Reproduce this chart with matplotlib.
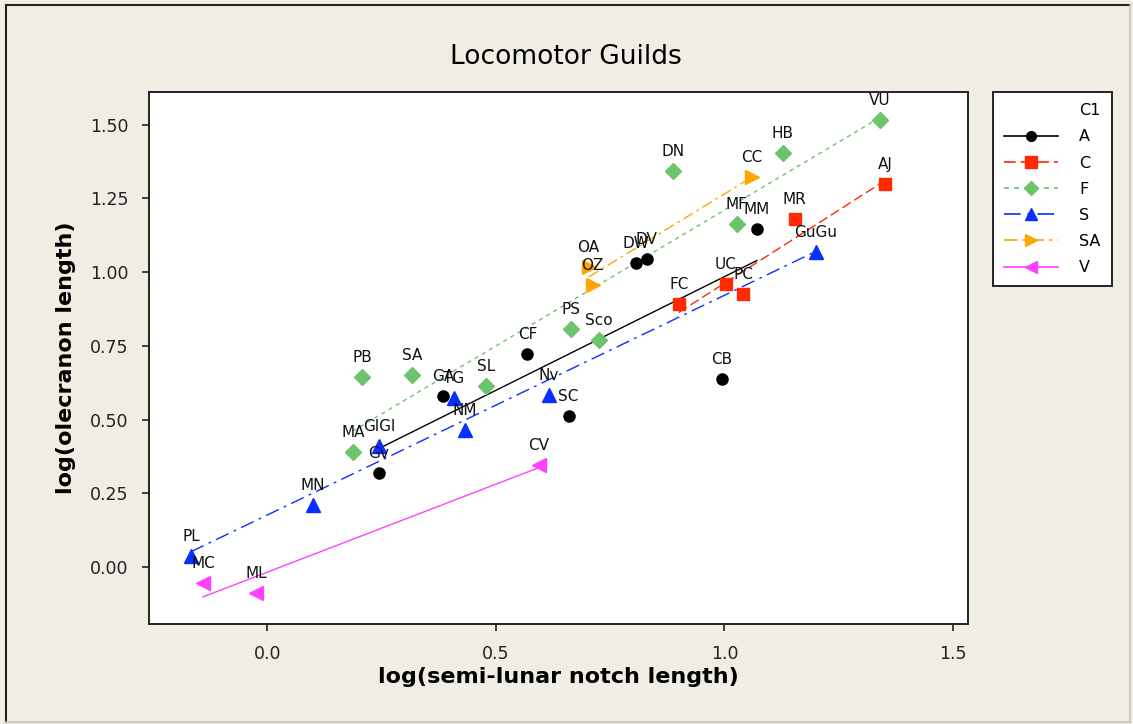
import matplotlib
matplotlib.use("Agg")
import matplotlib.pyplot as plt
from matplotlib.lines import Line2D
import numpy as np

# guild A
a_names = ["Gv", "GA", "CF", "SC", "DW", "DV", "CB", "MM"]
a_x = [0.244, 0.384, 0.569, 0.659, 0.806, 0.830, 0.994, 1.071]
a_y = [0.319, 0.580, 0.723, 0.512, 1.031, 1.045, 0.638, 1.147]

# guild C
c_names = ["FC", "UC", "PC", "MR", "AJ"]
c_x = [0.900, 1.003, 1.041, 1.154, 1.351]
c_y = [0.892, 0.960, 0.926, 1.180, 1.299]

# guild F
f_names = ["MA", "PB", "SA", "SL", "PS", "Sco", "DN", "MF", "HB", "VU"]
f_x = [0.187, 0.207, 0.316, 0.478, 0.664, 0.725, 0.887, 1.027, 1.128, 1.340]
f_y = [0.390, 0.645, 0.651, 0.614, 0.807, 0.770, 1.343, 1.164, 1.404, 1.516]

# guild S
s_names = ["PL", "MN", "GlGl", "TG", "NM", "Nv", "GuGu"]
s_x = [-0.167, 0.100, 0.244, 0.408, 0.432, 0.616, 1.200]
s_y = [0.037, 0.210, 0.410, 0.573, 0.465, 0.583, 1.069]

# guild SA
sa_names = ["OA", "OZ", "CC"]
sa_x = [0.703, 0.712, 1.060]
sa_y = [1.018, 0.957, 1.323]

# guild V
v_names = ["MC", "ML", "CV"]
v_x = [-0.141, -0.025, 0.594]
v_y = [-0.054, -0.088, 0.346]

guilds = ["A", "C", "F", "S", "SA", "V"]
bg = "#f0ede5"

styles = {
  "A":  dict(color="black",   marker="o", ms=8,   ls="-"),
  "C":  dict(color="#ff2a00", marker="s", ms=9,   ls=(0, (7, 3))),
  "F":  dict(color="#6cc46c", marker="D", ms=8,   ls=(0, (3, 3))),
  "S":  dict(color="#0a2eff", marker="^", ms=10,  ls=(0, (10, 4, 2, 4))),
  "SA": dict(color="#ffa500", marker=">", ms=10,  ls=(0, (8, 3, 2, 3))),
  "V":  dict(color="#ff40ff", marker="<", ms=10,  ls="-"),
}

data = {
  "A": (a_names, a_x, a_y),
  "C": (c_names, c_x, c_y),
  "F": (f_names, f_x, f_y),
  "S": (s_names, s_x, s_y),
  "SA": (sa_names, sa_x, sa_y),
  "V": (v_names, v_x, v_y),
}

fig = plt.figure(figsize=(11.33, 7.24), dpi=100, facecolor=bg)
ax = fig.add_axes([149/1133, 1 - 624/724, 819/1133, 532/724])
ax.set_facecolor("white")

for g in guilds:
  names, xs, ys = data[g]
  st = styles[g]
  xs = np.array(xs)
  ys = np.array(ys)
  # least squares fit line over the guild's x range
  k, b = np.polyfit(xs, ys, 1)
  lx = np.array([xs.min(), xs.max()])
  ax.plot(lx, k * lx + b, color=st["color"], ls=st["ls"], lw=1.0, zorder=2)
  ax.plot(xs, ys, ls="none", marker=st["marker"], ms=st["ms"],
          color=st["color"], mec=st["color"], zorder=3)
  for n, x, y in zip(names, xs, ys):
    ax.annotate(n, (x, y), xytext=(0, 14), textcoords="offset points",
                ha="center", va="center", fontsize=11, color="#111111", zorder=4)

ax.set_xlim(-0.259, 1.533)
ax.set_ylim(-0.193, 1.611)
ax.set_xticks([0.0, 0.5, 1.0, 1.5])
ax.set_xticklabels(["0.0", "0.5", "1.0", "1.5"])
ax.set_yticks([0.0, 0.25, 0.5, 0.75, 1.0, 1.25, 1.5])
ax.set_yticklabels(["0.00", "0.25", "0.50", "0.75", "1.00", "1.25", "1.50"])
ax.tick_params(direction="out", length=5, width=1.2, labelsize=12.5, pad=10, colors="#222222")
for sp in ax.spines.values():
  sp.set_linewidth(1.4)
  sp.set_color("#222222")

ax.set_xlabel("log(semi-lunar notch length)", fontsize=16, fontweight="bold", labelpad=3)
ax.set_ylabel("log(olecranon length)", fontsize=16, fontweight="bold", labelpad=10)
fig.text(566/1133, 1 - 57/724, "Locomotor Guilds", ha="center", va="center", fontsize=19)

handles = []
for g in guilds:
  st = styles[g]
  handles.append(Line2D([], [], color=st["color"], ls=st["ls"], lw=1.2,
                        marker=st["marker"], ms=st["ms"] - 1, mec=st["color"]))
leg = fig.legend(handles, guilds, title="C1", loc="upper left",
                 bbox_to_anchor=(993/1133, 1 - 92/724), borderaxespad=0,
                 fontsize=11.5, title_fontsize=11.5, handlelength=3.4,
                 labelspacing=0.7, handletextpad=1.3, borderpad=0.7,
                 fancybox=False, edgecolor="#222222", framealpha=1,
                 alignment="right")
leg.get_frame().set_linewidth(1.4)

# outer frame
fig.add_artist(Line2D([6/1133, 6/1133], [2/724, 1 - 5/724], color="#222222", lw=1.5))
fig.add_artist(Line2D([6/1133, 1130/1133], [1 - 5/724, 1 - 5/724], color="#222222", lw=1.5))
fig.add_artist(Line2D([1130/1133, 1130/1133], [2/724, 1 - 5/724], color="#c8c4bc", lw=1.2))
fig.add_artist(Line2D([6/1133, 1130/1133], [2/724, 2/724], color="#c8c4bc", lw=1.2))

fig.savefig("out.png", dpi=100, facecolor=bg)
